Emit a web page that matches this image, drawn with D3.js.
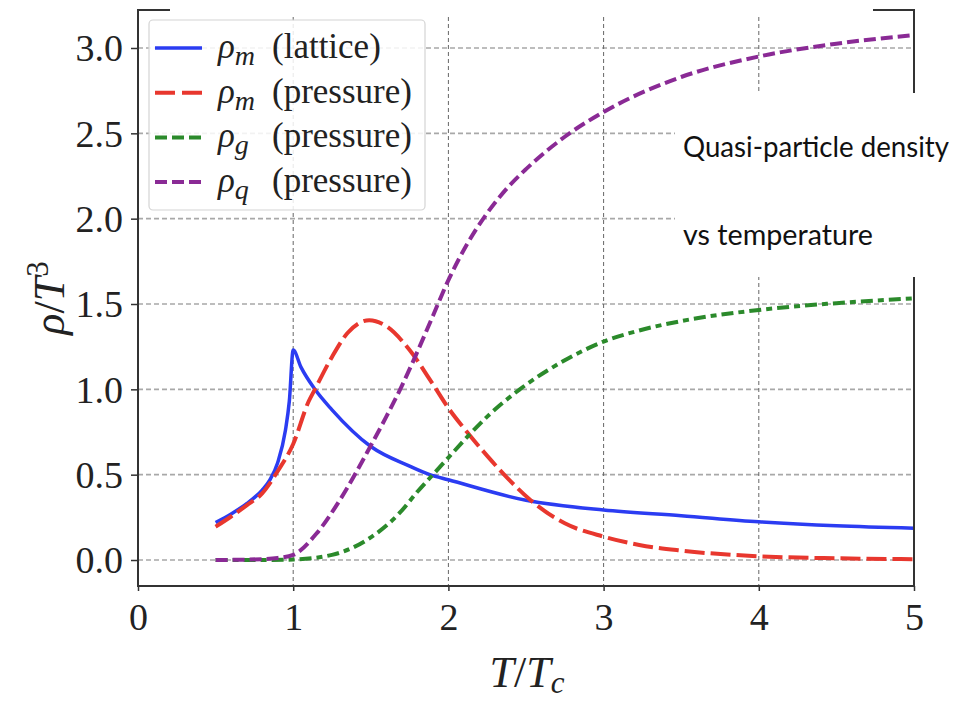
<!DOCTYPE html>
<html>
<head>
<meta charset="utf-8">
<script src="https://cdn.jsdelivr.net/npm/d3@7"></script>
<style>
  html, body { margin: 0; padding: 0; background: #fff; }
  svg { display: block; }
</style>
</head>
<body>
<svg id="chart" width="957" height="703"></svg>
<script>
// Reduced temperature T/Tc and densities rho/T^3 for each curve
const latticeT   = [0.5, 0.6, 0.7, 0.8, 0.85, 0.9, 0.95, 0.975, 1.0, 1.05, 1.14, 1.25, 1.5, 1.75, 1.88, 2.0, 2.5, 3.0, 3.5, 4.0, 4.5, 5.0];
const latticeRho = [0.22, 0.27, 0.33, 0.41, 0.47, 0.57, 0.76, 0.93, 1.23, 1.13, 1.0, 0.88, 0.665, 0.55, 0.50, 0.47, 0.35, 0.293, 0.26, 0.224, 0.20, 0.186];

const mesonT   = [0.5, 0.6, 0.7, 0.8, 0.9, 1.0, 1.1, 1.14, 1.25, 1.35, 1.49, 1.6, 1.75, 1.9, 2.0, 2.12, 2.25, 2.37, 2.53, 2.75, 3.0, 3.23, 3.5, 4.0, 4.5, 5.0];
const mesonRho = [0.195, 0.255, 0.32, 0.39, 0.52, 0.68, 0.93, 1.0, 1.19, 1.33, 1.405, 1.37, 1.23, 1.03, 0.89, 0.75, 0.61, 0.49, 0.35, 0.215, 0.137, 0.088, 0.055, 0.022, 0.01, 0.005];

const gluonT   = [0.5, 0.8, 1.0, 1.25, 1.47, 1.69, 1.8, 1.9, 2.0, 2.12, 2.25, 2.46, 2.75, 3.0, 3.23, 3.5, 4.0, 4.5, 5.0];
const gluonRho = [0.0, 0.0, 0.003, 0.03, 0.115, 0.28, 0.40, 0.50, 0.60, 0.72, 0.84, 1.0, 1.17, 1.28, 1.345, 1.40, 1.465, 1.505, 1.533];

const quarkT   = [0.5, 0.8, 0.9, 1.0, 1.15, 1.3, 1.5, 1.6, 1.7, 1.8, 1.9, 2.0, 2.12, 2.24, 2.37, 2.5, 2.75, 3.0, 3.5, 4.0, 4.5, 5.0];
const quarkRho = [0.0, 0.005, 0.012, 0.03, 0.155, 0.35, 0.67, 0.84, 1.02, 1.22, 1.43, 1.64, 1.85, 2.02, 2.17, 2.29, 2.48, 2.625, 2.83, 2.95, 3.025, 3.076];

const xTicks = [0, 1, 2, 3, 4, 5];
const yTicks = [0.0, 0.5, 1.0, 1.5, 2.0, 2.5, 3.0];

const seriesNames = ["lattice", "pressure", "pressure", "pressure"];
const seriesSubs  = ["m", "m", "g", "q"];
const seriesColors = ["#2b3cf2", "#e8372e", "#2b8a2b", "#8a2a95"];
const seriesDashes = [null, "20,6", "12,5,6,5", "12,5"];

const series = [
  { t: latticeT, rho: latticeRho },
  { t: mesonT,   rho: mesonRho },
  { t: gluonT,   rho: gluonRho },
  { t: quarkT,   rho: quarkRho }
].map((s, i) => ({
  points: s.t.map((t, j) => [t, s.rho[j]]),
  name: seriesNames[i], sub: seriesSubs[i],
  color: seriesColors[i], dash: seriesDashes[i]
}));

const svg = d3.select("#chart");
const plotL = 138, plotR = 914, plotT = 10, plotB = 586;

const x = d3.scaleLinear().domain([0, 5]).range([plotL, plotR]);
const y = d3.scaleLinear().domain([-0.1523, 3.2226]).range([plotB, plotT]);

const serif = "'Liberation Serif', 'Times New Roman', serif";

// grid
const grid = svg.append("g");
grid.selectAll("line.h").data(yTicks).join("line")
  .attr("x1", plotL).attr("x2", plotR)
  .attr("y1", d => y(d)).attr("y2", d => y(d))
  .attr("stroke", "#a8a8a8").attr("stroke-width", 1.6)
  .attr("stroke-dasharray", "5,3");
grid.selectAll("line.v").data(xTicks.slice(1, -1)).join("line")
  .attr("x1", d => x(d)).attr("x2", d => x(d))
  .attr("y1", plotT).attr("y2", plotB)
  .attr("stroke", "#666").attr("stroke-width", 1)
  .attr("stroke-dasharray", "4,3");

// curves
const line = d3.line().x(d => x(d[0])).y(d => y(d[1])).curve(d3.curveMonotoneX);
svg.append("g").selectAll("path").data(series).join("path")
  .attr("d", d => line(d.points))
  .attr("fill", "none")
  .attr("stroke", d => d.color)
  .attr("stroke-width", d => d.dash ? 4 : 3.5)
  .attr("stroke-dasharray", d => d.dash)
  .attr("stroke-linejoin", "round");

// axes
const xAxis = d3.axisBottom(x).tickValues(xTicks).tickSize(5).tickPadding(10).tickFormat(d3.format("d"));
const yAxis = d3.axisLeft(y).tickValues(yTicks).tickSize(7).tickPadding(8).tickFormat(d3.format(".1f"));

const gx = svg.append("g").attr("transform", `translate(0,${plotB})`).call(xAxis);
const gy = svg.append("g").attr("transform", `translate(${plotL},0)`).call(yAxis);
[gx, gy].forEach(g => {
  g.select(".domain").remove();
  g.selectAll(".tick line").attr("stroke", "#333").attr("stroke-width", 1.5);
  g.selectAll(".tick text").attr("fill", "#222")
    .style("font-family", serif).style("font-size", "38px");
});
gy.selectAll(".tick text").attr("dy", "0.34em");
gx.selectAll(".tick text").attr("dy", "0.75em");

// frame
svg.append("rect")
  .attr("x", plotL).attr("y", plotT)
  .attr("width", plotR - plotL).attr("height", plotB - plotT)
  .attr("fill", "none").attr("stroke", "#333").attr("stroke-width", 2);

// legend
const lg = svg.append("g");
lg.append("rect")
  .attr("x", 149).attr("y", 20).attr("width", 276).attr("height", 190)
  .attr("rx", 4).attr("fill", "#fff").attr("fill-opacity", 0.85)
  .attr("stroke", "#d4d4d4").attr("stroke-width", 1.2);
const rowY = i => 48 + i * 44.7;
const rows = lg.selectAll("g.row").data(series).join("g")
  .attr("transform", (d, i) => `translate(0,${rowY(i)})`);
rows.append("line")
  .attr("x1", 155).attr("x2", 202).attr("y1", 0).attr("y2", 0)
  .attr("stroke", d => d.color)
  .attr("stroke-width", d => d.dash ? 4 : 3.5)
  .attr("stroke-dasharray", (d, i) => [null, "20,7", "12,5", "12,5"][i]);
const sym = rows.append("text")
  .attr("x", 218).attr("y", 10)
  .style("font-family", serif).style("font-size", "35px").attr("fill", "#222");
sym.append("tspan").style("font-style", "italic").text("ρ");
sym.append("tspan").style("font-style", "italic").style("font-size", "28px")
  .attr("dy", 7).text(d => d.sub);
rows.append("text")
  .attr("x", 272).attr("y", 10)
  .style("font-family", serif).style("font-size", "35px").attr("fill", "#222")
  .text(d => `(${d.name})`);

// axis titles
const xt = svg.append("text")
  .attr("x", 527).attr("y", 687).attr("text-anchor", "middle")
  .style("font-family", serif).style("font-size", "44px").attr("fill", "#222");
xt.append("tspan").style("font-style", "italic").text("T");
xt.append("tspan").text("/");
xt.append("tspan").style("font-style", "italic").text("T");
xt.append("tspan").style("font-style", "italic").style("font-size", "31px").attr("dy", 6).text("c");

const yt = svg.append("text")
  .attr("transform", "translate(64,298) rotate(-90)").attr("text-anchor", "middle")
  .style("font-family", serif).style("font-size", "44px").attr("fill", "#222");
yt.append("tspan").style("font-style", "italic").text("ρ");
yt.append("tspan").text("/");
yt.append("tspan").style("font-style", "italic").text("T");
yt.append("tspan").style("font-size", "31px").attr("dy", -16).text("3");

// white panels over the top edge and the caption area
svg.append("rect").attr("x", 170).attr("y", 0).attr("width", 703).attr("height", 14).attr("fill", "#fff");
svg.append("rect").attr("x", 675).attr("y", 93).attr("width", 282).attr("height", 184).attr("fill", "#fff");

const caption = svg.append("g")
  .style("font-family", "Lato, 'Open Sans', sans-serif").style("font-size", "28px").attr("fill", "#111");
caption.append("text").attr("x", 683).attr("y", 157)
  .attr("textLength", 266).attr("lengthAdjust", "spacingAndGlyphs")
  .text("Quasi-particle density");
caption.append("text").attr("x", 683).attr("y", 245)
  .attr("textLength", 190).attr("lengthAdjust", "spacingAndGlyphs")
  .text("vs temperature");
</script>
</body>
</html>
